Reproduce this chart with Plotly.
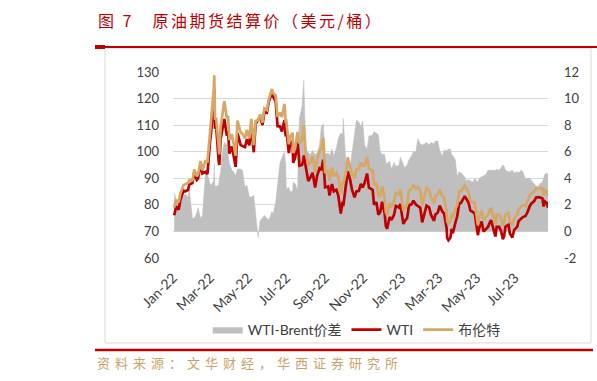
import plotly.graph_objects as go

DATES = [
 "2022-01-03","2022-01-06","2022-01-10","2022-01-13","2022-01-18","2022-01-21","2022-01-25","2022-01-27",
 "2022-02-01","2022-02-04","2022-02-08","2022-02-10","2022-02-14","2022-02-17","2022-02-22","2022-02-25",
 "2022-03-01","2022-03-03","2022-03-07","2022-03-08","2022-03-09","2022-03-11","2022-03-15","2022-03-16",
 "2022-03-18","2022-03-22","2022-03-24","2022-03-28","2022-03-30","2022-04-01","2022-04-05","2022-04-08",
 "2022-04-11","2022-04-14","2022-04-19","2022-04-22","2022-04-26","2022-04-29","2022-05-03","2022-05-06",
 "2022-05-10","2022-05-13","2022-05-17","2022-05-20","2022-05-24","2022-05-27","2022-05-31","2022-06-03",
 "2022-06-08","2022-06-10","2022-06-14","2022-06-17","2022-06-21","2022-06-24","2022-06-28","2022-06-30",
 "2022-07-01","2022-07-05","2022-07-07","2022-07-11","2022-07-12","2022-07-15","2022-07-19","2022-07-21",
 "2022-07-22","2022-07-26","2022-07-28","2022-07-29","2022-08-01","2022-08-03","2022-08-05","2022-08-09",
 "2022-08-12","2022-08-16","2022-08-19","2022-08-23","2022-08-26","2022-08-29","2022-09-01","2022-09-06",
 "2022-09-08","2022-09-12","2022-09-15","2022-09-19","2022-09-22","2022-09-26","2022-09-29","2022-09-30",
 "2022-10-04","2022-10-07","2022-10-11","2022-10-14","2022-10-18","2022-10-21","2022-10-25","2022-10-28",
 "2022-10-31","2022-11-03","2022-11-07","2022-11-10","2022-11-14","2022-11-16","2022-11-18","2022-11-22",
 "2022-11-25","2022-11-28","2022-12-01","2022-12-05","2022-12-07","2022-12-09","2022-12-13","2022-12-16",
 "2022-12-20","2022-12-23","2022-12-28","2022-12-30",
 "2023-01-04","2023-01-06","2023-01-10","2023-01-13","2023-01-17","2023-01-20","2023-01-24","2023-01-27",
 "2023-01-31","2023-02-03","2023-02-07","2023-02-10","2023-02-14","2023-02-17","2023-02-22","2023-02-24",
 "2023-02-28","2023-03-03","2023-03-07","2023-03-10","2023-03-14","2023-03-15","2023-03-17","2023-03-20",
 "2023-03-22","2023-03-24","2023-03-28","2023-03-31","2023-04-03","2023-04-06","2023-04-12","2023-04-14",
 "2023-04-18","2023-04-21","2023-04-25","2023-04-28","2023-05-03","2023-05-05","2023-05-09","2023-05-12",
 "2023-05-16","2023-05-19","2023-05-24","2023-05-26","2023-05-31","2023-06-02","2023-06-06","2023-06-09",
 "2023-06-12","2023-06-14","2023-06-16","2023-06-21","2023-06-23","2023-06-27","2023-06-30","2023-07-05",
 "2023-07-07","2023-07-11","2023-07-14","2023-07-18","2023-07-21","2023-07-25","2023-07-28","2023-08-01",
 "2023-08-04","2023-08-08","2023-08-10","2023-08-14","2023-08-16","2023-08-18","2023-08-21","2023-08-23",
]

WTI = [
 76.1,79.5,78.2,82.1,85.4,85.1,85.6,87.6,
 88.2,92.3,89.4,89.9,95.5,91.8,92.4,91.6,
 103.4,107.7,119.4,123.7,108.7,109.3,96.4,95.0,
 104.7,109.3,112.3,106.0,107.8,99.3,102.0,98.3,
 94.3,107.0,102.6,102.1,101.7,104.7,102.4,109.8,
 99.8,110.5,112.4,113.2,110.0,115.1,114.7,118.9,
 122.1,120.7,118.9,109.6,109.5,107.6,111.8,105.8,
 108.4,99.5,102.7,104.1,95.8,97.6,104.2,96.4,
 94.7,95.0,96.4,98.6,93.9,90.7,89.0,90.5,
 92.1,86.5,90.8,93.7,93.1,97.0,86.6,86.9,
 83.5,87.8,85.1,85.7,83.5,76.7,81.2,79.5,
 86.5,92.6,89.4,85.6,82.8,85.1,85.3,87.9,
 86.5,88.2,91.8,86.5,85.9,85.6,80.1,81.0,
 76.3,77.2,81.2,76.9,72.0,71.0,75.4,74.3,
 76.2,79.6,79.0,80.3,
 72.8,73.8,75.1,79.9,80.2,81.6,80.1,79.7,
 78.9,73.4,77.1,79.7,79.1,76.3,74.0,76.3,
 77.1,79.7,77.6,76.7,71.3,67.6,66.7,67.6,
 70.9,69.3,73.2,75.7,80.4,80.7,83.3,82.5,
 80.9,77.9,77.1,76.8,68.6,71.3,73.7,70.0,
 70.9,71.7,74.3,72.7,68.1,71.7,71.7,70.2,
 67.1,68.3,71.8,72.5,69.2,67.7,70.6,71.8,
 73.9,74.8,75.4,75.8,77.1,79.6,80.6,81.4,
 82.8,82.9,82.8,82.5,79.4,81.3,80.7,78.9,
]

BRENT = [
 79.0,81.9,80.9,84.5,87.5,87.9,88.2,89.3,
 89.2,93.3,90.8,91.4,96.5,93.0,96.8,95.9,
 107.0,111.2,123.2,128.8,112.1,112.7,99.9,99.0,
 109.2,115.6,119.0,112.5,113.5,104.4,106.6,102.8,
 98.5,111.7,107.3,106.7,105.0,108.2,105.0,112.4,
 102.5,111.6,111.9,114.0,111.0,116.3,115.7,119.7,
 123.6,122.0,121.2,113.1,114.7,113.1,118.0,111.5,
 111.6,102.8,105.7,107.1,99.5,101.2,107.4,103.9,
 103.2,104.4,107.1,110.0,100.0,96.8,94.9,96.3,
 98.2,92.3,96.7,100.2,101.0,105.1,92.4,92.8,
 89.2,94.0,90.8,92.0,90.5,84.1,88.5,88.0,
 91.8,97.9,94.3,91.6,90.0,93.5,93.5,95.8,
 94.8,94.7,98.0,93.7,93.1,92.9,87.6,88.4,
 83.6,83.2,87.0,82.7,77.2,76.1,80.7,79.0,
 81.4,84.5,84.0,85.9,
 77.8,78.6,80.1,85.3,85.9,87.6,86.1,86.7,
 85.5,79.9,83.7,86.4,85.6,83.0,80.6,83.2,
 83.9,85.8,83.3,82.8,77.4,73.7,73.0,73.8,
 76.7,75.0,78.6,79.8,84.9,85.1,87.3,86.3,
 84.8,81.7,80.8,80.8,72.3,75.3,77.8,74.2,
 75.2,76.3,78.9,77.3,72.7,76.4,76.3,75.0,
 72.1,73.2,76.4,77.0,73.7,72.3,75.0,76.3,
 78.3,79.4,79.9,79.6,81.1,83.6,84.4,85.0,
 86.2,86.3,86.4,86.2,83.5,85.6,85.1,83.2,
]

SPREAD = [
 2.9,2.4,2.2,2.4,2.7,2.8,2.6,3.2,
 1.0,1.0,1.4,1.8,1.0,1.2,4.4,4.3,
 3.6,3.5,3.8,5.1,3.4,3.4,3.5,4.0,
 4.5,6.3,6.7,6.5,5.7,5.1,4.6,4.5,
 4.2,4.7,4.7,4.6,3.3,3.5,2.6,2.6,
 2.7,1.1,-0.45,0.8,1.0,1.2,1.0,0.85,
 1.5,1.3,2.2,3.5,5.2,5.5,6.0,5.0,
 3.2,3.3,3.0,3.0,3.7,3.6,3.1,7.5,
 8.5,9.4,10.7,11.4,6.1,6.1,5.9,5.8,
 6.1,5.8,5.9,6.5,7.9,8.1,5.8,5.9,
 5.7,6.2,5.7,6.3,7.0,7.4,7.3,8.5,
 5.3,5.3,4.9,6.0,7.2,8.4,8.2,7.9,
 8.3,6.5,6.2,7.2,7.2,7.3,7.5,7.4,
 7.3,6.0,5.8,5.8,5.2,5.1,5.3,4.7,
 5.2,4.9,5.0,5.6,
 5.0,4.8,5.0,5.4,5.7,6.0,6.0,7.0,
 6.6,6.5,6.6,6.7,6.5,6.7,6.6,6.8,
 6.8,6.1,5.7,6.1,6.1,6.1,6.2,6.2,
 5.8,5.7,5.4,4.1,4.5,4.4,4.1,3.8,
 3.9,3.8,3.7,4.0,3.7,4.0,4.1,4.2,
 4.3,4.6,4.6,4.6,4.6,4.7,4.6,4.8,
 5.0,4.9,4.6,4.5,4.5,4.6,4.4,4.5,
 4.4,4.6,4.5,3.9,4.0,4.0,3.8,3.6,
 3.4,3.4,3.6,3.7,4.1,4.3,4.4,4.3,
]

TICK_DATES = ["2022-01-01","2022-03-01","2022-05-01","2022-07-01","2022-09-01","2022-11-01",
              "2023-01-01","2023-03-01","2023-05-01","2023-07-01"]
TICK_TEXT = ["Jan-22","Mar-22","May-22","Jul-22","Sep-22","Nov-22","Jan-23","Mar-23","May-23","Jul-23"]
LEFT_TICKS = [60, 70, 80, 90, 100, 110, 120, 130]
RIGHT_TICKS = [-2, 0, 2, 4, 6, 8, 10, 12]
RIGHT_TEXT = ["-2", "0", "2", "4", "6", "8", "10", "12"]

TITLE = "图 7　原油期货结算价（美元/桶）"
SOURCE = "资料来源：文华财经，华西证券研究所"

W, H = 597, 381
L, R, T, B = 173, 548, 72, 258
def px(x): return (x - L) / (R - L)
def py(y): return (B - y) / (B - T)

fig = go.Figure()
fig.add_trace(go.Scatter(x=DATES, y=SPREAD, name="WTI-Brent价差", mode="lines",
                         fill="tozeroy", fillcolor="#bfbfbf", line=dict(color="#bfbfbf", width=0.5),
                         yaxis="y"))
fig.add_trace(go.Scatter(x=DATES, y=WTI, name="WTI", mode="lines",
                         line=dict(color="#c00000", width=2.7), yaxis="y2"))
fig.add_trace(go.Scatter(x=DATES, y=BRENT, name="布伦特", mode="lines",
                         line=dict(color="#d6a765", width=2.7), yaxis="y2"))

tickfont = dict(family="Lato, Open Sans, sans-serif", size=13, color="#404040")
xtickfont = dict(family="Lato, Open Sans, sans-serif", size=14, color="#404040")
fig.update_layout(
    width=W, height=H,
    margin=dict(l=L, r=W - R, t=T, b=H - B),
    paper_bgcolor="white", plot_bgcolor="white",
    showlegend=True,
    legend=dict(orientation="h", x=0.49, xanchor="center", y=py(330), yanchor="middle",
                font=dict(family="Lato, Noto Sans CJK SC, sans-serif", size=14, color="#404040"),
                bgcolor="rgba(0,0,0,0)", itemwidth=30, tracegroupgap=0),
    xaxis=dict(type="date", range=["2022-01-01", "2023-08-23"], tickvals=TICK_DATES, ticktext=TICK_TEXT,
               tickangle=-45, tickfont=xtickfont, showgrid=False, zeroline=False, showline=False,
               ticks="", ticklabelstandoff=8),
    yaxis=dict(side="right", range=[-2, 12], tickvals=RIGHT_TICKS, ticktext=RIGHT_TEXT, tickfont=tickfont,
               showgrid=True, gridcolor="#d9d9d9", gridwidth=1, zeroline=False, showline=False,
               ticks="", ticklabelstandoff=15),
    yaxis2=dict(side="left", overlaying="y", range=[60, 130], tickvals=LEFT_TICKS, tickfont=tickfont,
                showgrid=False, zeroline=False, showline=False, ticks="", ticklabelstandoff=13),
    shapes=[
        dict(type="rect", xref="paper", yref="paper", x0=px(105), x1=px(591), y0=py(343), y1=py(48),
             line=dict(color="#d9d9d9", width=1), fillcolor="rgba(0,0,0,0)", layer="below"),
        dict(type="line", xref="paper", yref="paper", x0=px(95), x1=px(597), y0=py(47), y1=py(47),
             line=dict(color="#c00000", width=2)),
        dict(type="rect", xref="paper", yref="paper", x0=px(95), x1=px(105), y0=py(49), y1=py(45),
             line=dict(width=0), fillcolor="#c00000"),
        dict(type="line", xref="paper", yref="paper", x0=px(95), x1=px(593), y0=py(350), y1=py(350),
             line=dict(color="#c00000", width=2.5)),
    ],
    annotations=[
        dict(text='<span style="letter-spacing:2.5px">' + TITLE + '</span>', xref="paper", yref="paper",
             x=px(96), y=py(20), xanchor="left", yanchor="middle",
             showarrow=False, font=dict(family="Noto Sans CJK SC", size=16, color="#c00000")),
        dict(text='<span style="letter-spacing:5px">' + SOURCE + '</span>', xref="paper", yref="paper",
             x=px(95), y=py(362), xanchor="left", yanchor="middle",
             showarrow=False, font=dict(family="Noto Sans CJK SC", size=13, color="#c9a46a")),
    ],
)

fig.write_html("out.html")
